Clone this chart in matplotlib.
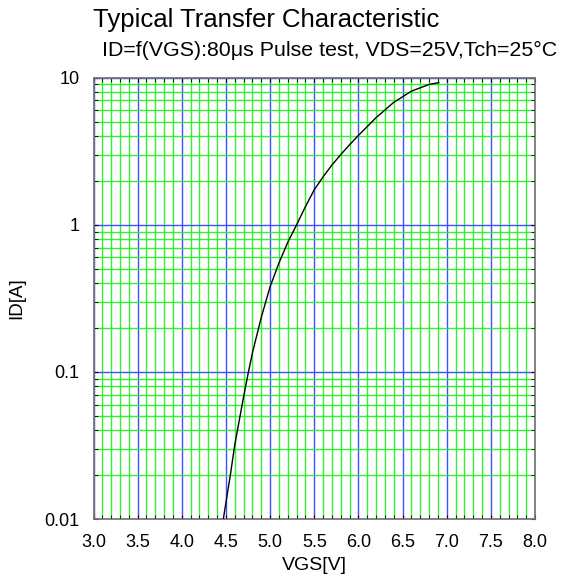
import numpy as np
import matplotlib
matplotlib.use('Agg')
import matplotlib.pyplot as plt
from matplotlib.ticker import FixedLocator, FuncFormatter, LogLocator, MultipleLocator

plt.rcParams['font.family'] = ['Liberation Sans', 'DejaVu Sans']

# Curve
vgs = [4.47, 4.55, 4.6, 4.7, 4.75, 4.8, 4.9, 5.0, 5.1, 5.2, 5.3, 5.4, 5.5,
       5.6, 5.7, 5.8, 5.9, 6.0, 6.2, 6.4, 6.6, 6.8, 6.91]
id_a = [0.01, 0.02, 0.032, 0.068, 0.097, 0.135, 0.235, 0.38, 0.55, 0.76, 1.0, 1.33, 1.73,
        2.12, 2.55, 3.0, 3.5, 4.05, 5.35, 6.8, 8.1, 9.0, 9.25]

x_ticks = [3.0, 3.5, 4.0, 4.5, 5.0, 5.5, 6.0, 6.5, 7.0, 7.5, 8.0]
y_ticks = [0.01, 0.1, 1, 10]
y_labels = ['0.01', '0.1', '1', '10']

fig = plt.figure(figsize=(5.62, 5.79), dpi=100)
ax = fig.add_axes([0.1664, 0.1036, 0.7856, 0.7622])

ax.set_yscale('log')
ax.set_xlim(3.0, 8.0)
ax.set_ylim(0.01, 10)

# minor grid (green), major grid (blue)
ax.xaxis.set_major_locator(FixedLocator(x_ticks))
ax.xaxis.set_minor_locator(MultipleLocator(0.1))
ax.yaxis.set_major_locator(FixedLocator(y_ticks))
ax.yaxis.set_minor_locator(LogLocator(base=10, subs=np.arange(2, 10)))
ax.yaxis.set_major_formatter(FuncFormatter(lambda v, p: y_labels[y_ticks.index(v)] if v in y_ticks else ''))
ax.xaxis.set_major_formatter(FuncFormatter(lambda v, p: f'{v:.1f}'))

ax.grid(which='minor', color='#22ee22', linewidth=1.0, alpha=0.9)
ax.grid(which='major', color='#4050ff', linewidth=1.0)
ax.set_axisbelow(True)

ax.plot(vgs, id_a, color='black', linewidth=1.0, zorder=3)

ax.tick_params(which='both', direction='in', top=True, right=True, labelsize=13,
               color='black', length=3)
ax.tick_params(axis='x', pad=11)
ax.tick_params(axis='y', pad=10)
for s in ax.spines.values():
    s.set_color('#707070')
    s.set_linewidth(1.2)

ax.set_xlabel('VGS[V]', fontsize=14, labelpad=4)
ax.set_ylabel('ID[A]', fontsize=13.5, labelpad=14)

fig.text(0.165, 0.965, 'Typical Transfer Characteristic', fontsize=18.5, va='center', ha='left')
fig.text(0.181, 0.913, 'ID=f(VGS):80μs Pulse test, VDS=25V,Tch=25°C', fontsize=15.4,
         va='center', ha='left')

fig.savefig('out.png', dpi=100)
